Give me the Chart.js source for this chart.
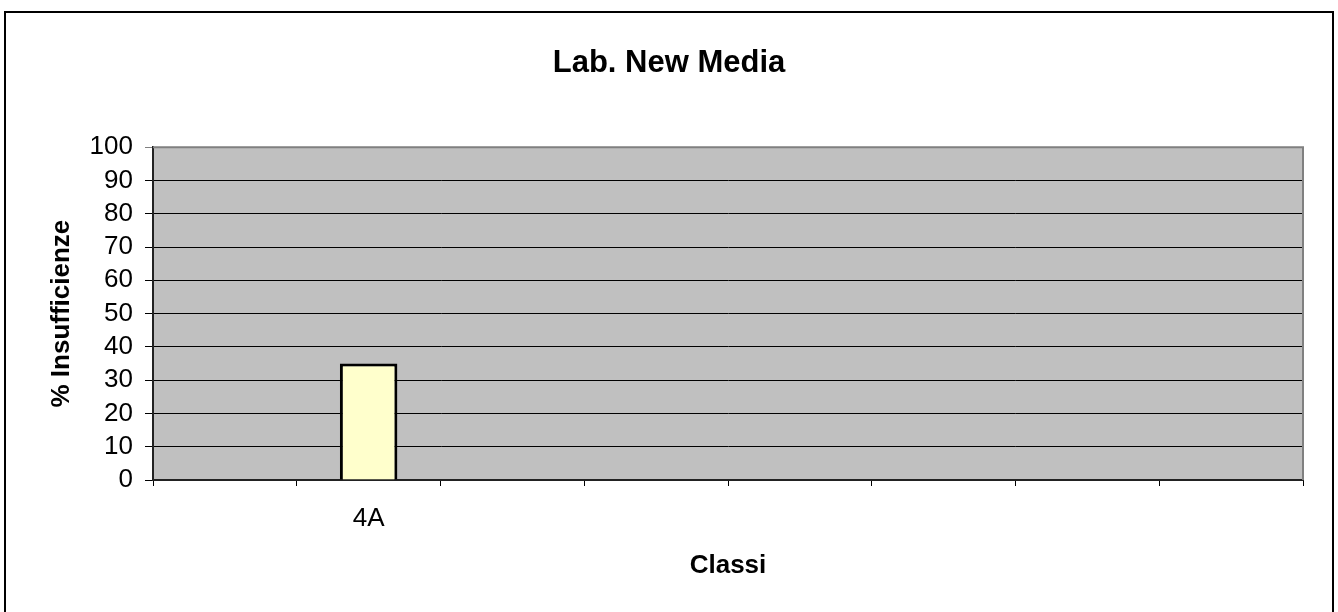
<!DOCTYPE html>
<html>
<head>
<meta charset="utf-8">
<script src="https://cdn.jsdelivr.net/npm/chart.js@4.4.1/dist/chart.umd.min.js"></script>
<style>
    html, body { margin: 0; padding: 0; background: #fff; overflow: hidden; }
    #wrap { position: absolute; left: 0; top: 0; width: 1338px; height: 612px; }
    #frame {
        position: absolute; left: 4px; top: 11px; width: 1326px; height: 700px;
        border: 2px solid #000; pointer-events: none;
    }
</style>
</head>
<body>
<div id="wrap"><canvas id="myChart" width="1338" height="612"></canvas></div>
<div id="frame"></div>
<script>
const classes = ['', '4A', '', '', '', '', '', ''];
const insufficienze = [null, 35, null, null, null, null, null, null];
const yTicks = [0, 10, 20, 30, 40, 50, 60, 70, 80, 90, 100];

const FONT = "'Liberation Sans', Arial, sans-serif";

// grey plot area with a grey frame on top and right, like the old spreadsheet charts
const plotArea = {
    id: 'plotArea',
    beforeDraw(chart) {
        const { ctx, chartArea: a } = chart;
        ctx.save();
        ctx.fillStyle = '#C0C0C0';
        ctx.fillRect(a.left, a.top, a.right - a.left, a.bottom - a.top);
        ctx.restore();
    },
    beforeDatasetsDraw(chart) {
        const { ctx, chartArea: a } = chart;
        ctx.save();
        ctx.strokeStyle = '#808080';
        ctx.lineWidth = 2;
        ctx.beginPath();
        ctx.moveTo(a.left, a.top);
        ctx.lineTo(a.right, a.top);
        ctx.lineTo(a.right, a.bottom);
        ctx.stroke();
        ctx.restore();
    }
};

new Chart('myChart', {
    type: 'bar',
    data: {
        labels: classes,
        datasets: [{
            data: insufficienze,
            backgroundColor: '#FFFFCC',
            borderColor: '#000',
            borderWidth: 3,
            barPercentage: 0.4,
            categoryPercentage: 1
        }]
    },
    options: {
        responsive: false,
        animation: false,
        layout: { padding: 0 },
        plugins: {
            legend: { display: false },
            tooltip: { enabled: false },
            title: {
                display: true,
                text: 'Lab. New Media',
                color: '#000',
                font: { family: FONT, size: 31, weight: 'bold' },
                padding: { top: 45, bottom: 65 }
            }
        },
        scales: {
            x: {
                offset: true,
                grid: {
                    offset: true,
                    drawOnChartArea: false,
                    drawTicks: true,
                    tickLength: 6,
                    color: '#000'
                },
                border: { color: '#222', width: 2 },
                ticks: {
                    color: '#000',
                    padding: 17,
                    maxRotation: 0,
                    autoSkip: false,
                    font: { family: FONT, size: 26 }
                },
                title: {
                    display: true,
                    text: 'Classi',
                    color: '#000',
                    font: { family: FONT, size: 26, weight: 'bold' },
                    padding: { top: 0, bottom: 31 }
                },
                afterFit: s => { s.height = 132; }
            },
            y: {
                min: 0,
                max: 100,
                afterBuildTicks: s => { s.ticks = yTicks.map(v => ({ value: v })); },
                grid: {
                    color: c => (c.tick && c.tick.value === 100) ? '#808080' : '#000',
                    lineWidth: 1,
                    tickLength: 8
                },
                border: { color: '#222', width: 2 },
                ticks: {
                    color: '#000',
                    padding: 12,
                    autoSkip: false,
                    font: { family: FONT, size: 26 }
                },
                title: {
                    display: true,
                    text: '% Insufficienze',
                    color: '#000',
                    font: { family: FONT, size: 26, weight: 'bold' },
                    padding: { top: 46, bottom: 0 }
                },
                afterFit: s => { s.width = 153; }
            },
            // empty axis on the right just to keep the plot narrower than the frame
            y2: {
                position: 'right',
                display: true,
                grid: { display: false },
                border: { display: false },
                ticks: { display: false },
                afterFit: s => { s.width = 35; }
            }
        }
    },
    plugins: [plotArea]
});
</script>
</body>
</html>
